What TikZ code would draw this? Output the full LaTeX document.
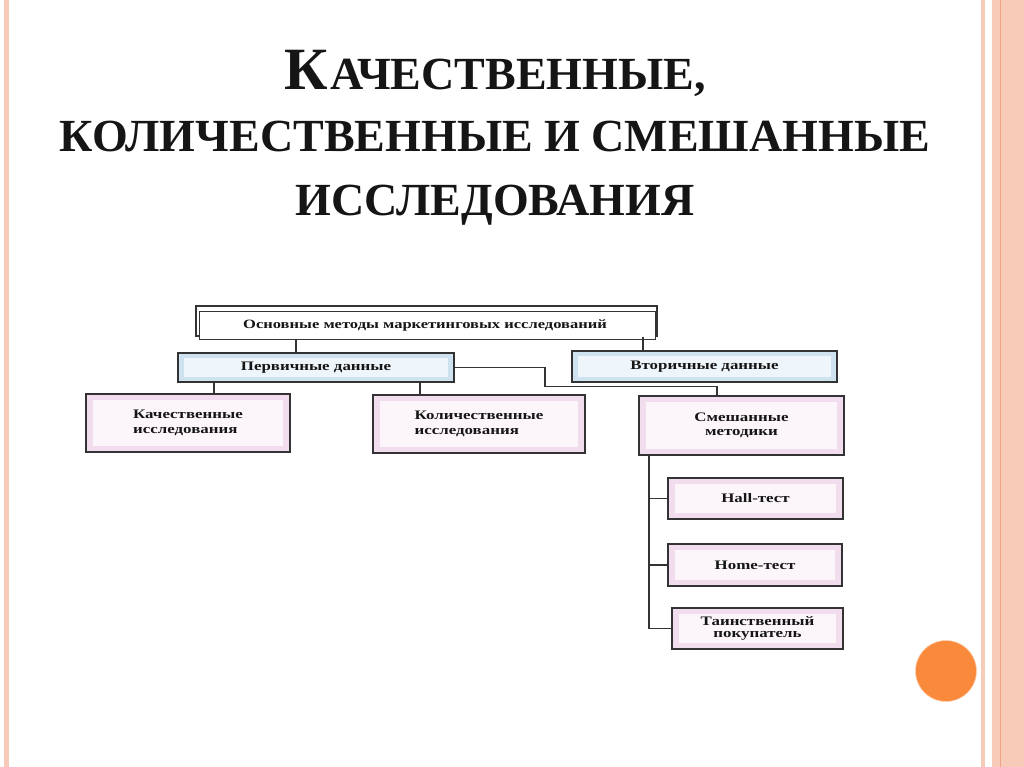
\documentclass[tikz,border=0pt]{standalone}
\usepackage{fontspec}
\setmainfont{Liberation Serif}
\newfontfamily\diagfont[FakeStretch=1.3]{Liberation Serif}
\usetikzlibrary{calc}
\definecolor{stripe}{HTML}{F7CBB8}
\definecolor{stripeD}{HTML}{F0A486}
\definecolor{dotc}{HTML}{F98A3C}
\definecolor{ink}{HTML}{151515}
\definecolor{boxline}{HTML}{333333}
\definecolor{pinkfill}{HTML}{F2DDEE}
\definecolor{pinkin}{HTML}{FCF6FB}
\definecolor{bluefill}{HTML}{CFE2F0}
\definecolor{bluein}{HTML}{EEF5FB}
\tikzset{
  every node/.style={text=ink},
  pinkbox/.style={draw=boxline, line width=1.6pt, fill=pinkfill, inner sep=0pt,
    font=\diagfont\fontsize{13}{14.5}\selectfont\bfseries, align=center,
    path picture={\fill[pinkin] ($(path picture bounding box.south west)+(7pt,6pt)$) rectangle ($(path picture bounding box.north east)+(-7pt,-6pt)$);}},
  bluebox/.style={draw=boxline, line width=1.4pt, fill=bluefill, inner sep=0pt,
    font=\diagfont\fontsize{13}{14}\selectfont\bfseries, align=center,
    path picture={\fill[bluein] ($(path picture bounding box.south west)+(6pt,5pt)$) rectangle ($(path picture bounding box.north east)+(-6pt,-5pt)$);}},
  topbox/.style={draw=boxline, line width=1.4pt, fill=white, inner sep=0pt},
  conn/.style={draw=boxline, line width=1.8pt},
  titlefont/.style={font=\bfseries}
}
\begin{document}
\begin{tikzpicture}[x=1pt,y=-1pt]
\useasboundingbox[fill=white] (0,0) rectangle (1024,767);
% decorative stripes
\fill[stripe] (4,0) rectangle (9,767);
\fill[stripe] (981,0) rectangle (985,767);
\fill[stripe] (992,0) rectangle (1024,767);
\draw[stripeD, line width=1pt] (1000,0) -- (1000,767);
\draw[stripeD!60, line width=0.8pt] (1009,0) -- (1009,767);
\fill[dotc, draw=dotc!40!white, line width=0.6pt] (946,671) circle (30.5);
% title
\node[anchor=base, titlefont] (t1) at (495,90) {{\fontsize{60}{60}\selectfont К}\kern3pt{\fontsize{46}{46}\selectfont АЧЕСТВЕННЫЕ,}};
\node[anchor=base, titlefont] (t2) at (495,152) {\fontsize{46}{46}\selectfont КОЛИЧЕСТВЕННЫЕ И СМЕШАННЫЕ};
\node[anchor=base, titlefont] (t3) at (495,215) {\fontsize{46}{46}\selectfont ИССЛЕДОВАНИЯ};
% diagram
\node[topbox, minimum width=461pt, minimum height=30pt] (top) at (426.5,321) {};
\draw[draw=boxline, line width=1.4pt, fill=white] ([xshift=4pt,yshift=-6pt]top.north west) rectangle ([xshift=-2pt,yshift=-3pt]top.south east);
\node[font=\diagfont\fontsize{12.7}{14}\selectfont\bfseries] (toplabel) at (425,325) {Основные методы маркетинговых исследований};
\node[bluebox, minimum width=276pt, minimum height=29pt] (perv) at (316,367.5) {Первичные данные};
\node[bluebox, minimum width=265pt, minimum height=31pt] (vtor) at (704.5,366.5) {Вторичные данные};
\node[pinkbox, minimum width=204pt, minimum height=58pt, align=left] (kach) at (188,423) {Качественные\\исследования};
\node[pinkbox, minimum width=212pt, minimum height=58pt, align=left] (kol) at (479,424) {Количественные\\исследования};
\node[pinkbox, minimum width=205pt, minimum height=59pt] (smesh) at (741.5,425.5) {Смешанные\\методики};
\node[pinkbox, minimum width=175pt, minimum height=41pt] (hall) at (755.5,498.5) {Hall-тест};
\node[pinkbox, minimum width=174pt, minimum height=42pt] (home) at (755,565) {Home-тест};
\node[pinkbox, minimum width=171pt, minimum height=41pt, font=\diagfont\fontsize{13}{12.5}\selectfont\bfseries] (tain) at (757.5,628.5) {Таинственный\\покупатель};
% connectors
\coordinate (xa) at (296,0);
\coordinate (xb) at (643,0);
\coordinate (xc) at (214,0);
\coordinate (xd) at (420,0);
\coordinate (j1) at (545,386.5);
\coordinate (xe) at (717,0);
\coordinate (xv) at (649,0);
\draw[conn] ([yshift=-3pt]top.south -| xa) -- (perv.north -| xa);
\draw[conn] (top.south -| xb) -- (vtor.north -| xb);
\draw[conn] (perv.south -| xc) -- (kach.north -| xc);
\draw[conn] (perv.south -| xd) -- (kol.north -| xd);
\draw[conn] (perv.east) -| (j1) -- (j1 -| xe) -- (smesh.north -| xe);
\draw[conn] (smesh.south -| xv) |- (tain.west);
\draw[conn] (xv |- hall.west) -- (hall.west);
\draw[conn] (xv |- home.west) -- (home.west);
\end{tikzpicture}
\end{document}
